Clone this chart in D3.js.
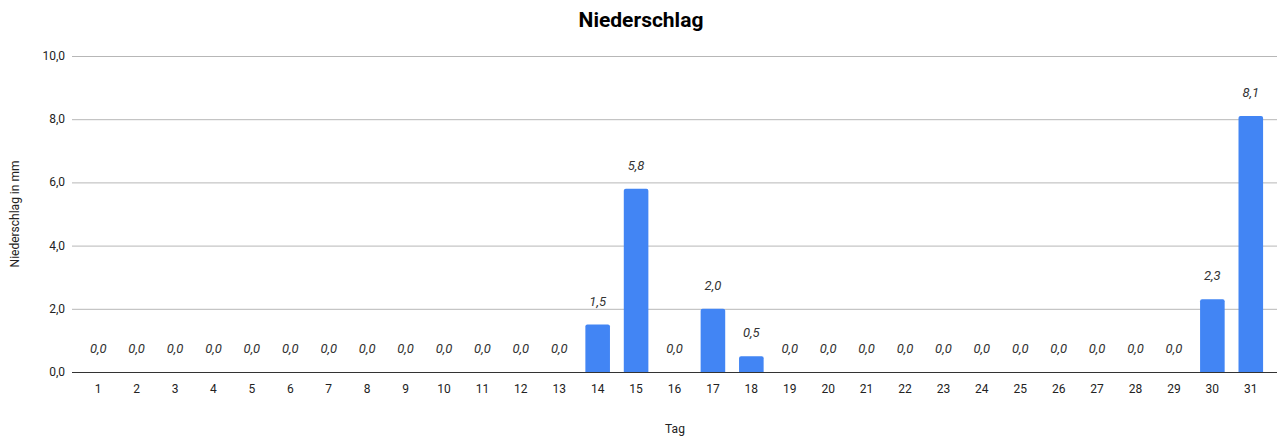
<!DOCTYPE html>
<html>
<head>
<meta charset="utf-8">
<script src="https://cdn.jsdelivr.net/npm/d3@7"></script>
<style>
  body { margin: 0; background: #fff; }
  svg { font-family: Roboto, sans-serif; }
</style>
</head>
<body>
<div id="canvas"></div>
<script>
const days = d3.range(1, 32).map(String);
const rain = [0, 0, 0, 0, 0, 0, 0, 0, 0, 0, 0, 0, 0, 1.5, 5.8, 0, 2.0, 0.5, 0, 0, 0, 0, 0, 0, 0, 0, 0, 0, 0, 2.3, 8.1];
const yTicks = [0, 2, 4, 6, 8, 10];

const data = days.map((d, i) => ({ day: d, value: rain[i] }));

const width = 1277;
const height = 436;
const fmt = v => d3.format(".1f")(v).replace(".", ",");

const svg = d3.select("#canvas").append("svg")
    .attr("width", width)
    .attr("height", height);

const y = d3.scaleLinear()
    .domain([0, 10])
    .range([372, 56]);

const x = d3.scaleBand()
    .domain(days)
    .range([79, 1270])
    .paddingInner(0.36)
    .paddingOuter(0.18);

// gridlines
svg.append("g")
    .selectAll("line")
    .data(yTicks)
    .join("line")
    .attr("x1", 72)
    .attr("x2", 1277)
    .attr("y1", d => y(d) + 0.5)
    .attr("y2", d => y(d) + 0.5)
    .attr("stroke", d => d === 0 ? "#333" : "#b7b7b7")
    .attr("stroke-width", 1);

// y tick labels
svg.append("g")
    .selectAll("text")
    .data(yTicks)
    .join("text")
    .attr("x", 65)
    .attr("y", d => y(d) + 4)
    .attr("text-anchor", "end")
    .attr("font-size", 12)
    .attr("fill", "#222")
    .text(fmt);

// bars
svg.append("g")
    .selectAll("path")
    .data(data.filter(d => d.value > 0))
    .join("path")
    .attr("fill", "#4285f4")
    .attr("d", d => {
        const x0 = x(d.day), w = x.bandwidth(), top = y(d.value), bot = y(0), r = 2;
        return `M${x0},${bot}V${top + r}Q${x0},${top} ${x0 + r},${top}H${x0 + w - r}Q${x0 + w},${top} ${x0 + w},${top + r}V${bot}Z`;
    });

// value labels
svg.append("g")
    .selectAll("text")
    .data(data)
    .join("text")
    .attr("x", d => x(d.day) + x.bandwidth() / 2)
    .attr("y", d => y(d.value) - 19)
    .attr("text-anchor", "middle")
    .attr("font-size", 13)
    .attr("font-style", "italic")
    .attr("fill", "#333")
    .text(d => fmt(d.value));

// x tick labels
svg.append("g")
    .selectAll("text")
    .data(days)
    .join("text")
    .attr("x", d => x(d) + x.bandwidth() / 2)
    .attr("y", 393)
    .attr("text-anchor", "middle")
    .attr("font-size", 12)
    .attr("fill", "#222")
    .text(d => d);

// titles
svg.append("text")
    .attr("x", 641)
    .attr("y", 27)
    .attr("text-anchor", "middle")
    .attr("font-size", 21)
    .attr("font-weight", "bold")
    .attr("fill", "#000")
    .text("Niederschlag");

svg.append("text")
    .attr("x", 675)
    .attr("y", 433)
    .attr("text-anchor", "middle")
    .attr("font-size", 12)
    .attr("fill", "#222")
    .text("Tag");

svg.append("text")
    .attr("transform", "translate(19,214) rotate(-90)")
    .attr("text-anchor", "middle")
    .attr("font-size", 12)
    .attr("fill", "#222")
    .text("Niederschlag in mm");
</script>
</body>
</html>
